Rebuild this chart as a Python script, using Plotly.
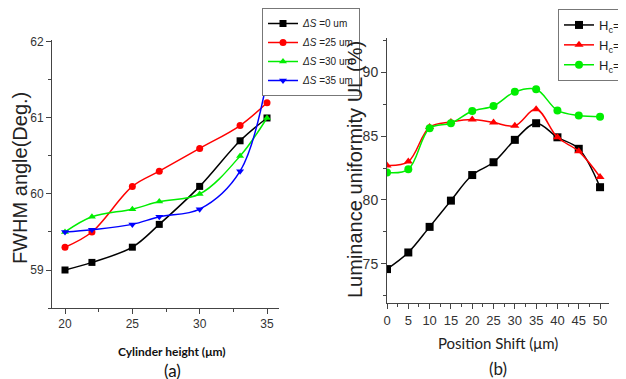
import plotly.graph_objects as go

# ---------- panel (a) data ----------
height_um = [20, 22, 25, 27, 30, 33, 35]
fwhm_ds0 = [59.0, 59.1, 59.3, 59.6, 60.1, 60.7, 61.0]
fwhm_ds25 = [59.3, 59.5, 60.1, 60.3, 60.6, 60.9, 61.2]
fwhm_ds30 = [59.5, 59.7, 59.8, 59.9, 60.0, 60.5, 61.0]
fwhm_ds35 = [59.5, 59.53, 59.6, 59.7, 59.8, 60.3, 61.5]
names_a = ["<i>ΔS</i> =0 um", "<i>ΔS</i> =25 um", "<i>ΔS</i> =30 um", "<i>ΔS</i> =35 um"]

# ---------- panel (b) data ----------
shift_um = [0, 5, 10, 15, 20, 25, 30, 35, 40, 45, 50]
ul_hc20 = [74.6, 75.9, 77.9, 79.95, 81.95, 82.95, 84.7, 86.0, 84.9, 84.0, 81.0]
ul_hc30 = [82.7, 83.0, 85.7, 86.1, 86.3, 86.05, 85.8, 87.1, 84.9, 83.8, 81.8]
ul_hc40 = [82.15, 82.4, 85.6, 86.0, 86.95, 87.35, 88.45, 88.65, 87.0, 86.6, 86.5]
names_b = ["H<sub>c</sub>=20 um", "H<sub>c</sub>=30 um", "H<sub>c</sub>=40 um"]

# page body has an 8px margin: figure is placed at (8, 8)
OFF = 8
W, H = 626 - OFF, 379 - OFF
ARIAL = "Liberation Sans, Arial, sans-serif"
LATO = "Lato, Liberation Sans, sans-serif"
AXC = "#444444"

fig = go.Figure()

series_a = [
    (fwhm_ds0, "#000000", "square"),
    (fwhm_ds25, "#ff0000", "circle"),
    (fwhm_ds30, "#00ee00", "triangle-up"),
    (fwhm_ds35, "#0000ff", "triangle-down"),
]
for (vals, col, sym), nm in zip(series_a, names_a):
    fig.add_trace(go.Scatter(
        x=height_um, y=vals, name=nm, mode="lines+markers",
        line=dict(color=col, width=1.5, shape="spline", smoothing=1.0),
        marker=dict(color=col, symbol=sym, size=7),
        xaxis="x", yaxis="y", legend="legend"))

series_b = [
    (ul_hc20, "#000000", "square"),
    (ul_hc30, "#ff0000", "triangle-up"),
    (ul_hc40, "#00ee00", "circle"),
]
for (vals, col, sym), nm in zip(series_b, names_b):
    fig.add_trace(go.Scatter(
        x=shift_um, y=vals, name=nm, mode="lines+markers",
        line=dict(color=col, width=1.5, shape="spline", smoothing=1.0),
        marker=dict(color=col, symbol=sym, size=8),
        xaxis="x2", yaxis="y2", legend="legend2"))


def px_x(p):
    return (p - OFF) / W


def px_y(p):
    return 1 - (p - OFF) / H


def axis_style(size):
    return dict(showline=True, linecolor=AXC, linewidth=1, mirror=False,
                showgrid=False, zeroline=False, ticks="outside", ticklen=5,
                tickcolor=AXC, tickfont=dict(family=ARIAL, size=size, color="#333333"))


fig.update_layout(
    width=W, height=H, paper_bgcolor="white", plot_bgcolor="white",
    margin=dict(l=0, r=0, t=0, b=0, autoexpand=False),
    xaxis=dict(domain=[px_x(52), px_x(279)], range=[19.035, 35.89], anchor="y",
               tickvals=[20, 25, 30, 35],
               minor=dict(ticks="outside", ticklen=3, dtick=2.5, tick0=20, tickcolor=AXC),
               **axis_style(12)),
    yaxis=dict(domain=[px_y(308), px_y(40)], range=[58.5, 62.026], anchor="x",
               tickvals=[59, 60, 61, 62],
               minor=dict(ticks="outside", ticklen=3, dtick=0.5, tick0=59, tickcolor=AXC),
               **axis_style(12)),
    xaxis2=dict(domain=[px_x(387), px_x(609)], range=[0, 52.1], anchor="y2",
                tickvals=list(range(0, 51, 5)),
                minor=dict(ticks="outside", ticklen=3, dtick=2.5, tick0=0, tickcolor=AXC),
                **axis_style(13)),
    yaxis2=dict(domain=[px_y(303), px_y(38)], range=[71.95, 92.66], anchor="x2",
                tickvals=[75, 80, 85, 90],
                minor=dict(ticks="outside", ticklen=3, dtick=2.5, tick0=75, tickcolor=AXC),
                **axis_style(14)),
    legend=dict(x=px_x(262), y=px_y(8), xanchor="left", yanchor="top",
                bgcolor="white", bordercolor="#777777", borderwidth=1,
                font=dict(family=ARIAL, size=10, color="#222222"),
                itemwidth=30, tracegroupgap=0, itemsizing="trace"),
    legend2=dict(x=px_x(558), y=px_y(9), xanchor="left", yanchor="top",
                 bgcolor="white", bordercolor="#777777", borderwidth=1,
                 font=dict(family=ARIAL, size=13, color="#222222"),
                 itemwidth=30, tracegroupgap=0, itemsizing="trace"),
    showlegend=True,
)

annots = [
    dict(text="FWHM angle(Deg.)", x=px_x(20), y=px_y(178), textangle=-90,
         font=dict(family=ARIAL, size=20, color="#222222")),
    dict(text="Luminance uniformity UL (%)", x=px_x(355), y=px_y(170), textangle=-90,
         font=dict(family=ARIAL, size=20, color="#222222")),
    dict(text="<b>Cylinder height (μm)</b>", x=px_x(172), y=px_y(351),
         font=dict(family=LATO, size=12, color="#111111")),
    dict(text="(a)", x=px_x(172), y=px_y(370),
         font=dict(family=LATO, size=17, color="#111111")),
    dict(text="Position Shift (μm)", x=px_x(498), y=px_y(343),
         font=dict(family=LATO, size=15, color="#222222")),
    dict(text="(b)", x=px_x(498), y=px_y(368),
         font=dict(family=LATO, size=17, color="#222222")),
]
for a in annots:
    fig.add_annotation(xref="paper", yref="paper", showarrow=False,
                       xanchor="center", yanchor="middle", **a)

fig.write_html("out.html")
